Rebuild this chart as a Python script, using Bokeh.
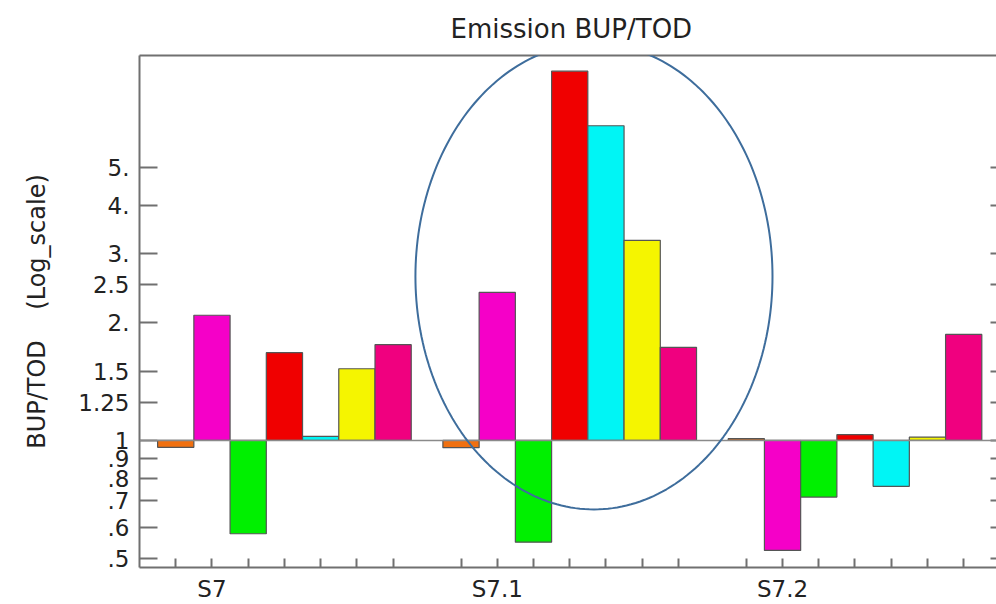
import numpy as np
from bokeh.plotting import figure
from bokeh.models import (Range1d, FixedTicker, CustomJSTickFormatter, LinearAxis,
                          LogAxis, Span, PolyAnnotation)
from bokeh.embed import file_html
from bokeh.resources import INLINE

# ---------------- data ----------------
GROUPS = ["S7", "S7.1", "S7.2"]
SERIES_COLORS = ["#f07010", "#f500c8", "#00f000", "#f00000", "#00f5f5", "#f5f500", "#f0007f"]
S7 = [0.96, 2.09, 0.577, 1.676, 1.024, 1.525, 1.757]
S7_1 = [0.958, 2.39, 0.549, 8.80, 6.38, 3.25, 1.73]
S7_2 = [1.01, 0.523, 0.716, 1.034, 0.763, 1.02, 1.867]
GROUP_VALUES = [S7, S7_1, S7_2]
Y_TICKS = [0.5, 0.6, 0.7, 0.8, 0.9, 1, 1.25, 1.5, 2, 2.5, 3, 4, 5]
Y_TICK_LABELS = [".5", ".6", ".7", ".8", ".9", "1", "1.25", "1.5", "2.", "2.5", "3.", "4.", "5."]
TITLE = "Emission BUP/TOD"
Y_LABEL = "BUP/TOD\u00a0\u00a0\u00a0\u00a0(Log_scale)"
BASELINE = 1.0

# ---------------- layout / style ----------------
BAR_W = 0.127
FONT = "DejaVu Sans"
AXIS_COL = "#707070"
TEXT_COL = "#222222"

xs, tops, cols = [], [], []
for g, vals in enumerate(GROUP_VALUES):
    for i, v in enumerate(vals):
        xs.append(g + (i - 3) * BAR_W)
        tops.append(v)
        cols.append(SERIES_COLORS[i])
label_pos = [g - 2 * BAR_W for g in range(len(GROUPS))]

p = figure(width=996, height=604, y_axis_type="log",
           x_range=Range1d(-0.508, 2.496), y_range=Range1d(0.473, 9.65),
           output_backend="svg", toolbar_location=None,
           min_border_left=139, min_border_top=55, min_border_bottom=37, min_border_right=0)
p.outline_line_color = None
p.xgrid.visible = False
p.ygrid.visible = False
p.background_fill_color = "white"
p.border_fill_color = "white"

p.title.text = TITLE
p.title.align = "left"
p.title.offset = 311
p.title.standoff = 23
p.title.text_font = FONT
p.title.text_font_size = "26px"
p.title.text_font_style = "normal"
p.title.text_color = TEXT_COL

p.vbar(x=xs, width=BAR_W, top=tops, bottom=BASELINE, fill_color=cols,
       line_color="#555555", line_width=1.2)

p.add_layout(Span(location=BASELINE, dimension="width", line_color="#8a8a8a", line_width=1.5))

# highlight ellipse (annotation) around S7.1
cx, cy, rx, ry_dec = 1 + 0.085, 2.627, 0.6258, 0.596
t = np.linspace(0, 2 * np.pi, 241)
ex = cx + rx * np.cos(t)
ey = 10 ** (np.log10(cy) + ry_dec * np.sin(t))
p.add_layout(PolyAnnotation(xs=list(ex), ys=list(ey), fill_color=None, fill_alpha=0,
                            line_color="#3e6d9c", line_alpha=1.0, line_width=2))

# y axis (left)
ya = p.yaxis[0]
ya.ticker = FixedTicker(ticks=Y_TICKS)
ya.formatter = CustomJSTickFormatter(args=dict(vals=Y_TICKS, labs=Y_TICK_LABELS), code="""
const i = vals.findIndex(v => Math.abs(v - tick) < 1e-9);
return i >= 0 ? labs[i] : "";
""")
ya.axis_label = Y_LABEL
ya.axis_label_text_font = FONT
ya.axis_label_text_font_size = "24px"
ya.axis_label_text_font_style = "normal"
ya.axis_label_text_color = TEXT_COL
ya.axis_label_standoff = 24
ya.major_label_text_font = FONT
ya.major_label_text_font_size = "23px"
ya.major_label_text_color = TEXT_COL
ya.major_label_standoff = 10
ya.major_tick_in = 18
ya.major_tick_out = 0
ya.minor_tick_line_color = None
ya.axis_line_color = AXIS_COL
ya.axis_line_width = 2
ya.major_tick_line_color = AXIS_COL
ya.major_tick_line_width = 2

# x axis (bottom)
xa = p.xaxis[0]
xa.ticker = FixedTicker(ticks=xs)
xa.formatter = CustomJSTickFormatter(args=dict(pos=label_pos, labs=GROUPS), code="""
const i = pos.findIndex(v => Math.abs(v - tick) < 1e-6);
return i >= 0 ? labs[i] : "";
""")
xa.major_label_text_font = FONT
xa.major_label_text_font_size = "23px"
xa.major_label_text_color = TEXT_COL
xa.major_label_standoff = 8
xa.major_tick_in = 9
xa.major_tick_out = 0
xa.minor_tick_line_color = None
xa.axis_line_color = AXIS_COL
xa.axis_line_width = 2
xa.major_tick_line_color = AXIS_COL
xa.major_tick_line_width = 2

# top frame line
top_ax = LinearAxis(ticker=FixedTicker(ticks=[]), axis_line_color=AXIS_COL, axis_line_width=2,
                    major_tick_line_color=None, minor_tick_line_color=None,
                    major_label_text_font_size="0px", major_label_standoff=0)
p.add_layout(top_ax, "above")

# right ticks (no line, no labels)
right_ax = LogAxis(ticker=FixedTicker(ticks=Y_TICKS), axis_line_color=None,
                   major_tick_line_color=AXIS_COL, major_tick_line_width=2,
                   major_tick_in=6, major_tick_out=0, minor_tick_line_color=None,
                   major_label_text_font_size="0px", major_label_standoff=0,
                   formatter=CustomJSTickFormatter(code="return '';"))
p.add_layout(right_ax, "right")

open("out.html", "w").write(file_html(p, INLINE))
